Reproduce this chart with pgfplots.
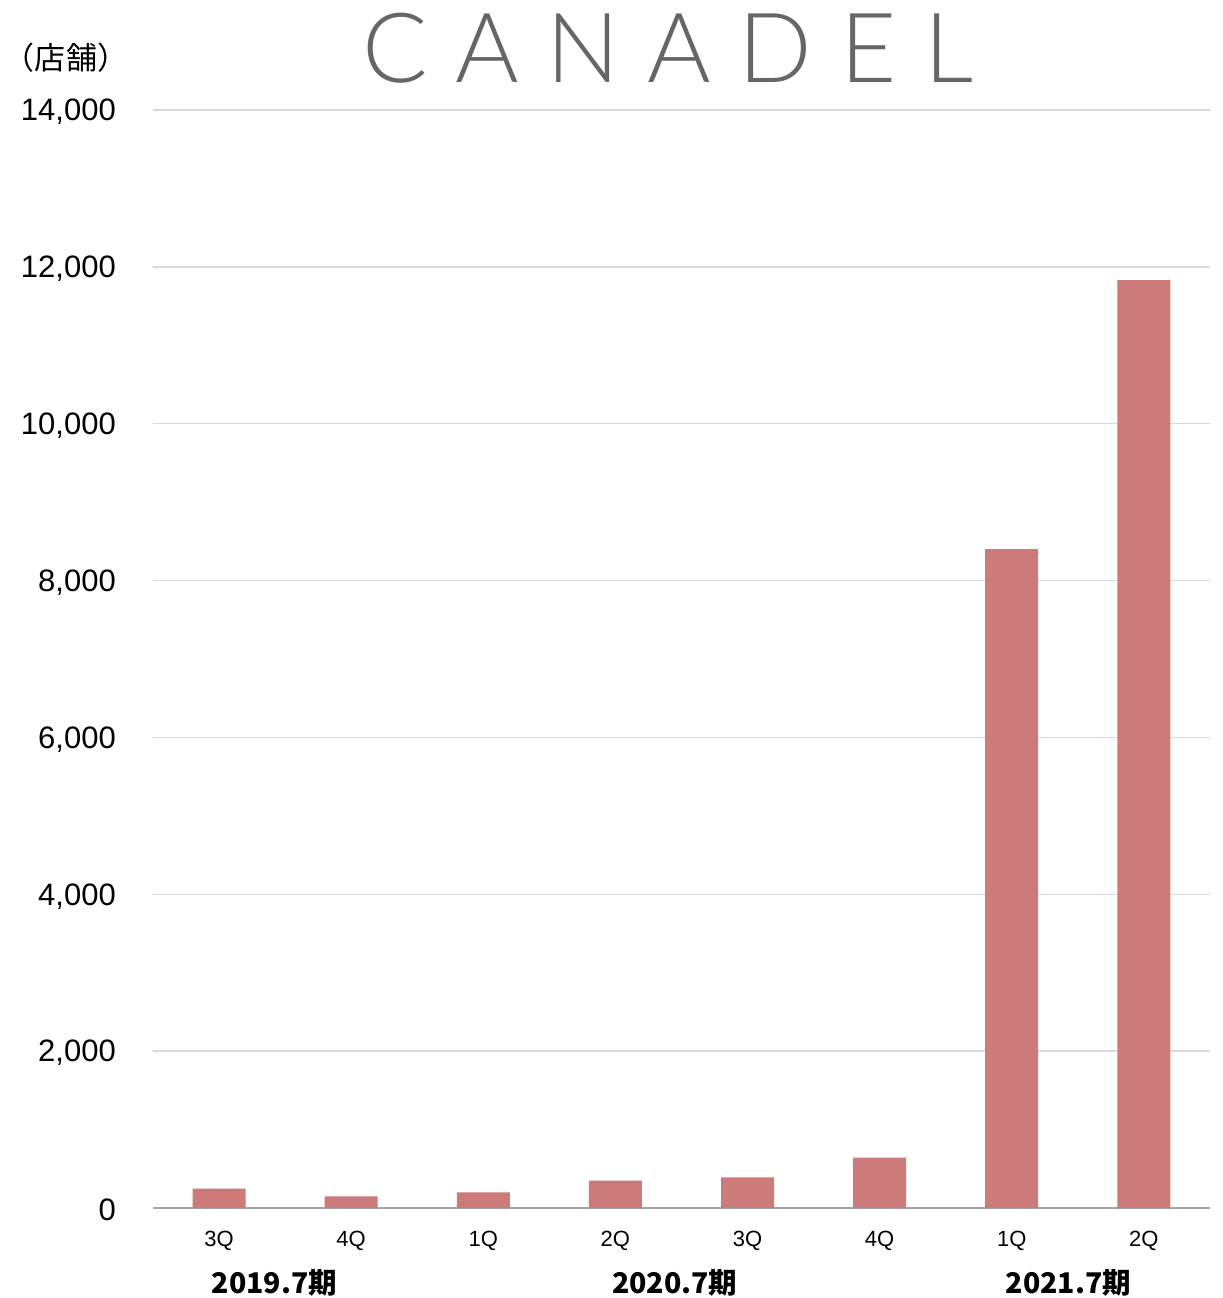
\documentclass[border=0pt]{standalone}
\usepackage{pgfplots}
\pgfplotsset{compat=1.18}
\usepackage{fontspec}
\setmainfont{Liberation Sans}
\newfontfamily\jp{Noto Sans CJK JP}
\newfontfamily\logofont{Lato Light}
\definecolor{barred}{RGB}{205,122,123}
\definecolor{gridgray}{RGB}{217,217,217}
\definecolor{axisgray}{RGB}{165,165,165}
\definecolor{logogray}{RGB}{102,102,102}
\begin{document}
\begin{tikzpicture}
\useasboundingbox (0pt,0pt) rectangle (1223pt,1298pt);
% brand name and unit
\node[anchor=west, inner sep=0, text=logogray,
      font=\logofont\fontsize{97}{100}\selectfont\addfontfeature{LetterSpace=28.5}]
  at (362pt,1249.5pt) {CANADEL};
\node[inner sep=0, font=\jp\fontsize{31}{34}\selectfont] at (66pt,1240pt) {（店舗）};
\begin{axis}[
  at={(153pt,90pt)}, anchor=south west, scale only axis,
  width=1057pt, height=1098pt,
  xmin=-0.5, xmax=7.5, ymin=0, ymax=14000,
  axis x line*=bottom, axis y line*=left,
  y axis line style={draw=none},
  x axis line style={draw=axisgray, line width=1.5pt, -},
  major tick length=0,
  ytick={0,2000,...,14000},
  scaled y ticks=false,
  /pgf/number format/.cd, 1000 sep={,}, assume math mode=true, /pgfplots/.cd,
  yticklabel style={font=\fontsize{31}{36}\selectfont, anchor=east, inner sep=0, xshift=-37pt, yshift=-2pt},
  xtick={0,...,7},
  xticklabels={3Q,4Q,1Q,2Q,3Q,4Q,1Q,2Q},
  xticklabel style={font=\fontsize{22}{26}\selectfont, anchor=center, inner sep=0, yshift=-33pt},
  ymajorgrids, grid style={draw=gridgray, line width=1.5pt},
  clip=false,
]
\addplot[ybar, bar width=53pt, bar shift=0pt, fill=barred, draw=none]
  coordinates {(0,246) (1,149) (2,200) (3,348) (4,391) (5,641) (6,8400) (7,11830)};
\node[font=\jp\bfseries\fontsize{28.5}{32}\selectfont, inner sep=0] at (axis cs:0.42,0) [yshift=-75pt] {2019.7期};
\node[font=\jp\bfseries\fontsize{28.5}{32}\selectfont, inner sep=0] at (axis cs:3.45,0) [yshift=-75pt] {2020.7期};
\node[font=\jp\bfseries\fontsize{28.5}{32}\selectfont, inner sep=0] at (axis cs:6.43,0) [yshift=-75pt] {2021.7期};
\end{axis}
\end{tikzpicture}
\end{document}
